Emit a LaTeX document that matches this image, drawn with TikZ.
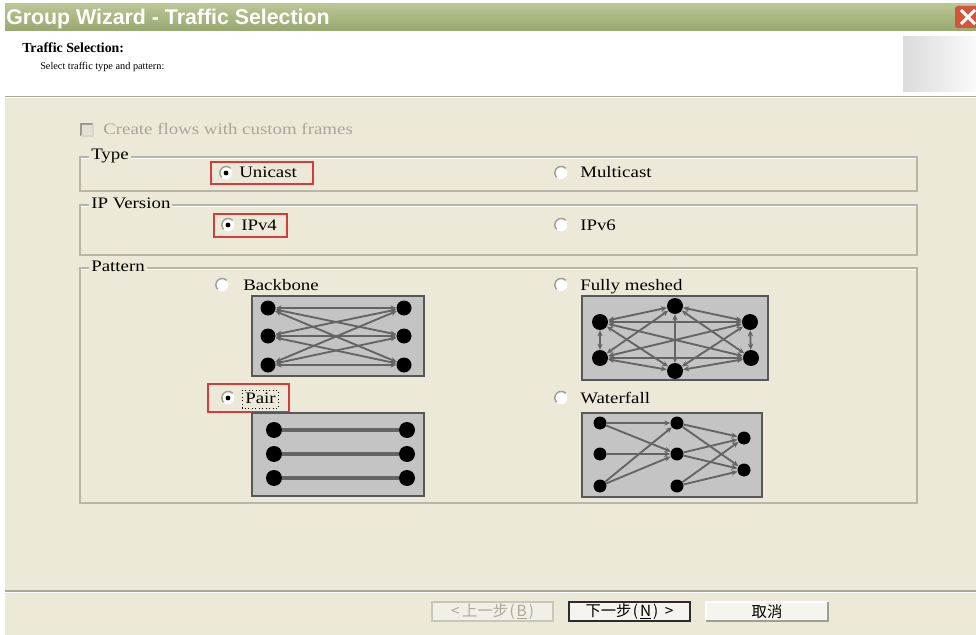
\documentclass[tikz,border=0pt]{standalone}
\usepackage{fontspec}
\setmainfont{Liberation Serif}
\newfontfamily\wide[FakeStretch=1.18]{Liberation Serif}
\newfontfamily\titlefont{Liberation Sans}
\newfontfamily\cjk{Noto Sans CJK TC}
\usetikzlibrary{arrows.meta,shadings}
\definecolor{beige}{HTML}{ECE9D8}
\definecolor{grpline}{HTML}{B8B6A8}
\definecolor{sepgray}{HTML}{ACA899}
\definecolor{redbox}{HTML}{D63C38}
\definecolor{imggray}{HTML}{C4C4C4}
\definecolor{imgframe}{HTML}{585858}
\definecolor{edgegray}{HTML}{646464}
\definecolor{dimtext}{HTML}{A8A59C}
\definecolor{titletop}{HTML}{BAC595}
\definecolor{titlebot}{HTML}{98A86E}
\definecolor{closered}{HTML}{D5553A}
\definecolor{chkfill}{HTML}{E4E1D4}
\definecolor{chkdark}{HTML}{9C9A90}
\definecolor{chklight}{HTML}{D8D5C8}
\definecolor{btnline}{HTML}{C9C6BA}
\definecolor{btnfill}{HTML}{F2F0E6}
\definecolor{btndim}{HTML}{ACA899}
\definecolor{btndark}{HTML}{2C2C2C}
\definecolor{btnfill2}{HTML}{F5F4EE}
\definecolor{btnshadow}{HTML}{A09E94}
\tikzset{
  lbl/.style={anchor=base west, inner sep=0pt, font=\wide\fontsize{12}{14}\selectfont},
  grplbl/.style={lbl, fill=beige, inner xsep=1.5pt},
  grpbox/.style={draw=grpline, line width=0.9pt},
  redframe/.style={draw=redbox, line width=1.2pt},
  radiob/.style={circle, fill=white, inner sep=0pt, minimum size=9.5pt},
  radioarc/.style={draw=gray!75, line width=1.1pt},
  imgbox/.style={draw=imgframe, fill=imggray, line width=1.2pt},
  dot/.style={circle, fill=black, inner sep=0pt, minimum size=11.25pt},
  bdot/.style={dot, minimum size=12pt},
  sdot/.style={dot, minimum size=9.75pt},
  edge/.style={draw=edgegray, line width=1.4pt},
  tip/.tip={Stealth[length=4.5pt,width=4pt]},
  biarrow/.style={edge, tip-tip},
  onearrow/.style={edge, -tip},
  btntext/.style={font=\cjk\fontsize{11.5}{13}\selectfont, inner sep=0pt},
}
\begin{document}
\begin{tikzpicture}[x=0.75pt,y=-0.75pt]
\useasboundingbox (0,0) rectangle (976,635);
\fill[white] (0,0) rectangle (976,635);
% title bar
\shade[top color=titletop, bottom color=titlebot] (5,4) rectangle (976,31);
\node[anchor=base west, inner sep=0pt, text=white, font=\titlefont\bfseries\fontsize{16}{19}\selectfont] (title) at (6,24.5) {Group Wizard - Traffic Selection};
\fill[closered, rounded corners=2pt] (955,6) rectangle (985,28);
\draw[white, line width=2.2pt] (961,10) -- (975,24) (961,24) -- (975,10);
% header
\fill[white] (5,31) rectangle (976,96);
\node[anchor=base west, inner sep=0pt, font=\bfseries\fontsize{10.4}{12}\selectfont] (hdr) at (22,53) {Traffic Selection:};
\node[anchor=base west, inner sep=0pt, font=\fontsize{7.7}{10}\selectfont] (sub) at (40,70) {Select traffic type and pattern:};
\shade[shading=axis, shading angle=60, left color=gray!28, right color=gray!4] (903,37) rectangle (976,92);
% body
\fill[beige] (5,97) rectangle (976,635);
\draw[sepgray, line width=0.9pt] (5,96.5) -- (976,96.5);
\draw[white, line width=0.75pt] (5,97.6) -- (976,97.6);
\draw[sepgray, line width=0.9pt] (5,591) -- (976,591);
\draw[white, line width=0.75pt] (5,592.2) -- (976,592.2);
% checkbox
\fill[chkfill] (81,124) rectangle (93,136);
\draw[chkdark, line width=1.5pt] (81,136) -- (81,124) -- (93,124);
\draw[chklight, line width=0.8pt] (81,136) -- (93,136) -- (93,124);
\node[lbl, text=dimtext] (custom) at (103,135) {Create flows with custom frames};
% Type group
\draw[grpbox] (80,157) rectangle (917,191);
\draw[white, line width=0.6pt] (81,158) -- (916,158);
\node[grplbl] (typeL) at (89,160) {Type};
\draw[redframe] (211,162) rectangle (313,184);
\node[radiob] (rUni) at (226,173) {};
\draw[radioarc] (rUni.45) arc[start angle=45, end angle=225, radius=4.75pt];
\fill[black] (rUni) circle[radius=1.8pt];
\node[lbl] (uni) at (239,178) {Unicast};
\node[radiob] (rMul) at (561,173) {};
\draw[radioarc] (rMul.45) arc[start angle=45, end angle=225, radius=4.75pt];
\node[lbl] (mul) at (580,178) {Multicast};
% IP version group
\draw[grpbox] (80,205) rectangle (917,255);
\draw[white, line width=0.6pt] (81,206) -- (916,206);
\node[grplbl] (ipL) at (89,209) {IP Version};
\draw[redframe] (214,214) rectangle (287,237);
\node[radiob] (r4) at (228,225) {};
\draw[radioarc] (r4.45) arc[start angle=45, end angle=225, radius=4.75pt];
\fill[black] (r4) circle[radius=1.8pt];
\node[lbl] (ip4) at (241,230) {IPv4};
\node[radiob] (r6) at (561,225) {};
\draw[radioarc] (r6.45) arc[start angle=45, end angle=225, radius=4.75pt];
\node[lbl] (ip6) at (580,230) {IPv6};
% Pattern group
\draw[grpbox] (80,268) rectangle (917,503);
\draw[white, line width=0.6pt] (81,269) -- (916,269);
\node[grplbl] (patL) at (89,271) {Pattern};
% Backbone
\node[radiob] (rBb) at (222,285) {};
\draw[radioarc] (rBb.45) arc[start angle=45, end angle=225, radius=4.75pt];
\node[lbl] (bb) at (243,290) {Backbone};
\draw[imgbox] (252,296) rectangle (424,376);
\node[dot] (L1) at (268,308) {};
\node[dot] (L2) at (268,336) {};
\node[dot] (L3) at (268,365) {};
\node[dot] (R1) at (404,308) {};
\node[dot] (R2) at (404,336) {};
\node[dot] (R3) at (404,365) {};
\foreach \a in {L1,L2,L3}{\foreach \b in {R1,R2,R3}{\draw[biarrow] (\a) -- (\b);}}
% Fully meshed
\node[radiob] (rFm) at (561,285) {};
\draw[radioarc] (rFm.45) arc[start angle=45, end angle=225, radius=4.75pt];
\node[lbl] (fm) at (580,290) {Fully meshed};
\draw[imgbox] (582,296) rectangle (768,380);
\node[bdot] (T) at (675,306) {};
\node[bdot] (UL) at (600,322) {};
\node[bdot] (UR) at (750,322) {};
\node[bdot] (LL) at (600,358) {};
\node[bdot] (LR) at (751,358) {};
\node[bdot] (B) at (675,371) {};
\foreach \a/\b in {T/UL,T/UR,T/LL,T/LR,T/B,UL/UR,UL/LL,UL/LR,UL/B,UR/LL,UR/LR,UR/B,LL/LR,LL/B,LR/B}{\draw[biarrow] (\a) -- (\b);}
% Pair
\draw[redframe] (208,384) rectangle (289,412);
\node[radiob] (rPa) at (228,398) {};
\draw[radioarc] (rPa.45) arc[start angle=45, end angle=225, radius=4.75pt];
\fill[black] (rPa) circle[radius=1.8pt];
\node[lbl] (pa) at (245,403) {Pair};
\draw[dotted, line width=0.6pt] (242,390) rectangle (278,408);
\draw[imgbox] (252,413) rectangle (424,496);
\node[bdot] (P1) at (274,430) {};
\node[bdot] (Q1) at (407,430) {};
\node[bdot] (P2) at (274,454) {};
\node[bdot] (Q2) at (407,454) {};
\node[bdot] (P3) at (274,478) {};
\node[bdot] (Q3) at (407,478) {};
\draw[edge, line width=2.6pt] (P1) -- (Q1);
\draw[edge, line width=2.6pt] (P2) -- (Q2);
\draw[edge, line width=2.6pt] (P3) -- (Q3);
% Waterfall
\node[radiob] (rWf) at (561,398) {};
\draw[radioarc] (rWf.45) arc[start angle=45, end angle=225, radius=4.75pt];
\node[lbl] (wf) at (580,403) {Waterfall};
\draw[imgbox] (582,413) rectangle (762,497);
\node[sdot] (A1) at (600,423) {};
\node[sdot] (A2) at (600,454) {};
\node[sdot] (A3) at (600,486) {};
\node[sdot] (B1) at (677,423) {};
\node[sdot] (B2) at (677,454) {};
\node[sdot] (B3) at (677,486) {};
\node[sdot] (C1) at (744,438) {};
\node[sdot] (C2) at (744,470) {};
\foreach \a/\b in {A1/B1,A1/B2,A2/B2,A3/B1,A3/B2,B1/C1,B1/C2,B2/C1,B2/C2,B3/C1,B3/C2}{\draw[onearrow] (\a) -- (\b);}
% buttons
\draw[btnline, fill=btnfill, line width=0.8pt] (432,602) rectangle (553,621);
\node[btntext, text=btndim] (back) at (492.5,611.5) {<\hspace{2pt}上一步\hspace{1pt}(\hspace{1.5pt}\underline{B}\hspace{1.5pt})};
\draw[btndark, fill=btnfill2, line width=1.3pt] (569,602) rectangle (690,621);
\node[btntext] (next) at (629.5,611.5) {下一步\hspace{1pt}(\hspace{1.5pt}\underline{N}\hspace{1.5pt})\hspace{5pt}>};
\fill[btnfill2] (706,602) rectangle (828,621);
\draw[white, line width=0.8pt] (706,621) -- (706,602) -- (828,602);
\draw[btnshadow, line width=1.2pt] (706,621) -- (828,621) -- (828,602);
\node[btntext] (cancel) at (767,611.5) {取消};
\end{tikzpicture}
\end{document}
